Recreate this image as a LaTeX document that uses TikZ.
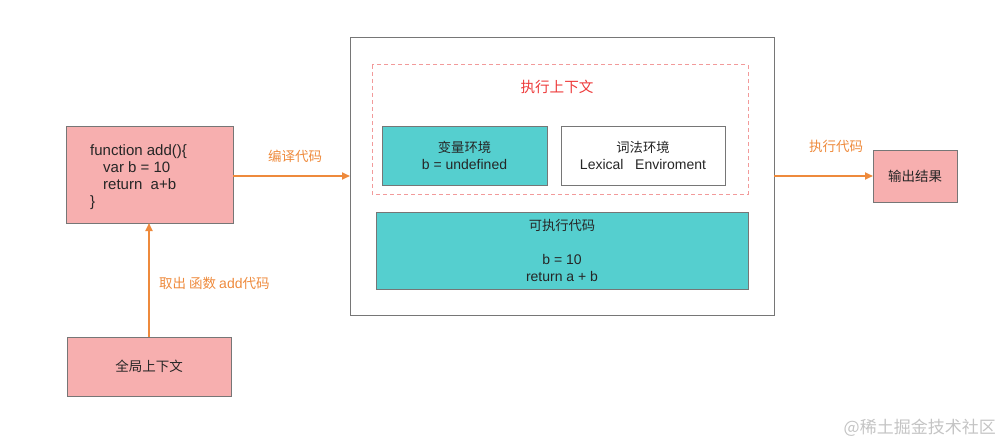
\documentclass[tikz,border=0pt]{standalone}
\usepackage{fontspec}
\setmainfont{Liberation Sans}
\newfontfamily\cjk{Noto Sans CJK SC}
\usetikzlibrary{arrows.meta}
\definecolor{pinkfill}{HTML}{F7AFAF}
\definecolor{tealfill}{HTML}{55CFCF}
\definecolor{edge}{HTML}{767676}
\definecolor{orangeline}{HTML}{EE8A3C}
\definecolor{redtxt}{HTML}{EE3B3B}
\definecolor{dashred}{HTML}{F29A9A}
\definecolor{wm}{HTML}{C4C4C4}
\begin{document}
\begin{tikzpicture}[x=1pt,y=-1pt,
  box/.style={draw=edge,line width=0.85pt},
  pinkbox/.style={box,fill=pinkfill},
  tealbox/.style={box,fill=tealfill},
  flow/.style={draw=orangeline,line width=1.8pt,-{Triangle[length=8pt,width=7pt]}},
  lbl/.style={text=orangeline,font=\cjk\fontsize{13.5}{16}\selectfont},
  txt/.style={font=\fontsize{14}{17}\selectfont,align=center,text=black!85},
  cjktxt/.style={text=black!85,font=\cjk\fontsize{13.5}{16}\selectfont}
]
\useasboundingbox (0,0) rectangle (1007,444);
% boxes
\draw[pinkbox] (66,126) rectangle (233,223);
\coordinate (codeS) at (149,223);
\coordinate (codeE) at (233,176);
\node[anchor=north west,align=left,font=\fontsize{15}{17}\selectfont,text=black!85,inner sep=0pt] (code) at (90,144)
  {function add()\{\\\hspace{13pt}var b = 10\\\hspace{13pt}return\ \ a+b\\\}};
\draw[pinkbox] (67,337) rectangle (231,396);
\node[cjktxt] (global) at (149,366.5) {全局上下文};
\coordinate (globalN) at (149,337);
% main box
\draw[box,fill=white] (350,37) rectangle (774,315);
\coordinate (mainW) at (350,176);
\coordinate (mainE) at (774,176);
\draw[dashred,line width=1pt,dash pattern=on 4pt off 3pt] (372,65) rectangle (748,194);
\node[text=redtxt,font=\cjk\fontsize{14.6}{17}\selectfont] (ec) at (557,87) {执行上下文};
\draw[tealbox] (382,126) rectangle (547,185);
\node[txt] (venv) at (464.5,155.5) {{\cjk\fontsize{13.3}{17}\selectfont 变量环境}\\b = undefined};
\draw[box,fill=white] (561,126) rectangle (725,185);
\node[txt] (lenv) at (643,155.5) {{\cjk\fontsize{13.3}{17}\selectfont 词法环境}\\Lexical\ \ \ Enviroment};
\draw[tealbox] (376,212) rectangle (748,289);
\node[txt,anchor=north,inner sep=0pt] (exec) at (562,219) {{\cjk\fontsize{13.3}{17}\selectfont 可执行代码}\\[17pt]b = 10\\return a + b};
% output
\draw[pinkbox] (873,150) rectangle (957,202);
\node[cjktxt] (out) at (915,176) {输出结果};
\coordinate (outW) at (873,176);
% arrows
\draw[flow] (globalN) -- (codeS);
\draw[flow] (codeE) -- (mainW);
\draw[flow] (mainE) -- (outW);
\node[lbl,anchor=west,inner sep=0pt] (l1) at (159,283) {取出 函数 {\fontspec{Liberation Sans}\fontsize{14}{16}\selectfont add}代码};
\node[lbl] (l2) at (295,156) {编译代码};
\node[lbl] (l3) at (836,146) {执行代码};
% watermark
\node[text=wm,font=\cjk\fontsize{17}{19}\selectfont,anchor=east,inner sep=0pt] (wmark) at (996,428) {@稀土掘金技术社区};
\end{tikzpicture}
\end{document}
